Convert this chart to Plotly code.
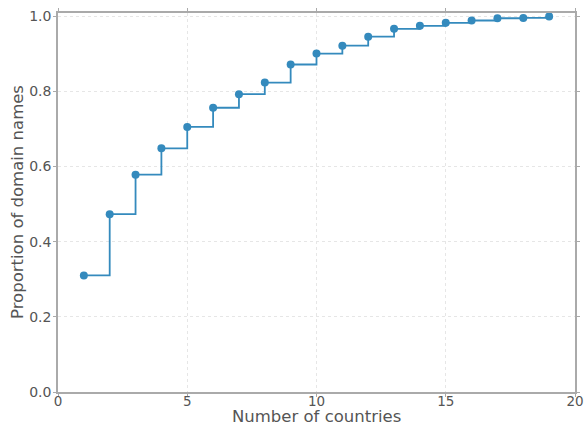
import plotly.graph_objects as go

# Cumulative share of domain names covered by the top-N countries
n_countries = list(range(1, 20))
proportion = [0.310, 0.473, 0.578, 0.648, 0.705, 0.756, 0.792, 0.823, 0.871,
              0.900, 0.921, 0.945, 0.966, 0.974, 0.982, 0.988, 0.994, 0.995, 0.999]

x_ticks = [0, 5, 10, 15, 20]
y_ticks = [0.0, 0.2, 0.4, 0.6, 0.8, 1.0]

blue = "#348ABD"
axis_grey = "#AAAAAA"
text_grey = "#555555"
title_font = dict(family="DejaVu Sans", size=16.5, color=text_grey)

fig = go.Figure()
fig.add_trace(go.Scatter(
    x=n_countries, y=proportion,
    mode="lines+markers",
    line=dict(shape="hv", color=blue, width=1.8),
    marker=dict(size=8, color=blue),
    showlegend=False,
))

axis_common = dict(
    showline=True, linecolor=axis_grey, linewidth=1.5, mirror="ticks",
    ticks="outside", ticklen=3, tickcolor=axis_grey, tickwidth=1,
    showgrid=True, gridcolor="#E6E6E6", griddash="dot", gridwidth=1,
    zeroline=False, automargin=False,
)

fig.update_xaxes(range=[0, 20], tickvals=x_ticks, ticklabelstandoff=-7,
                 ticktext=[str(v) for v in x_ticks],
                 tickfont=dict(family="DejaVu Sans", size=13.5, color=text_grey),
                 **axis_common)
fig.update_yaxes(range=[0, 1.008], tickvals=y_ticks, ticklabelstandoff=-1,
                 ticktext=[f"{v:.1f}" for v in y_ticks],
                 tickfont=dict(family="DejaVu Sans", size=14, color=text_grey),
                 **axis_common)

# Axis titles placed as paper-anchored annotations
fig.add_annotation(text="Number of countries", xref="paper", yref="paper",
                   x=0.5, y=0, yshift=-35, xanchor="center", yanchor="bottom",
                   borderpad=0, showarrow=False, font=title_font)
fig.add_annotation(text="Proportion of domain names", xref="paper", yref="paper",
                   x=0, y=0.5, xshift=-29, xanchor="right", yanchor="middle",
                   textangle=-90, showarrow=False, font=title_font)

fig.update_layout(
    width=588, height=427,
    margin=dict(l=58, r=13, t=13, b=35),
    plot_bgcolor="white", paper_bgcolor="white",
)

fig.write_html("out.html")
